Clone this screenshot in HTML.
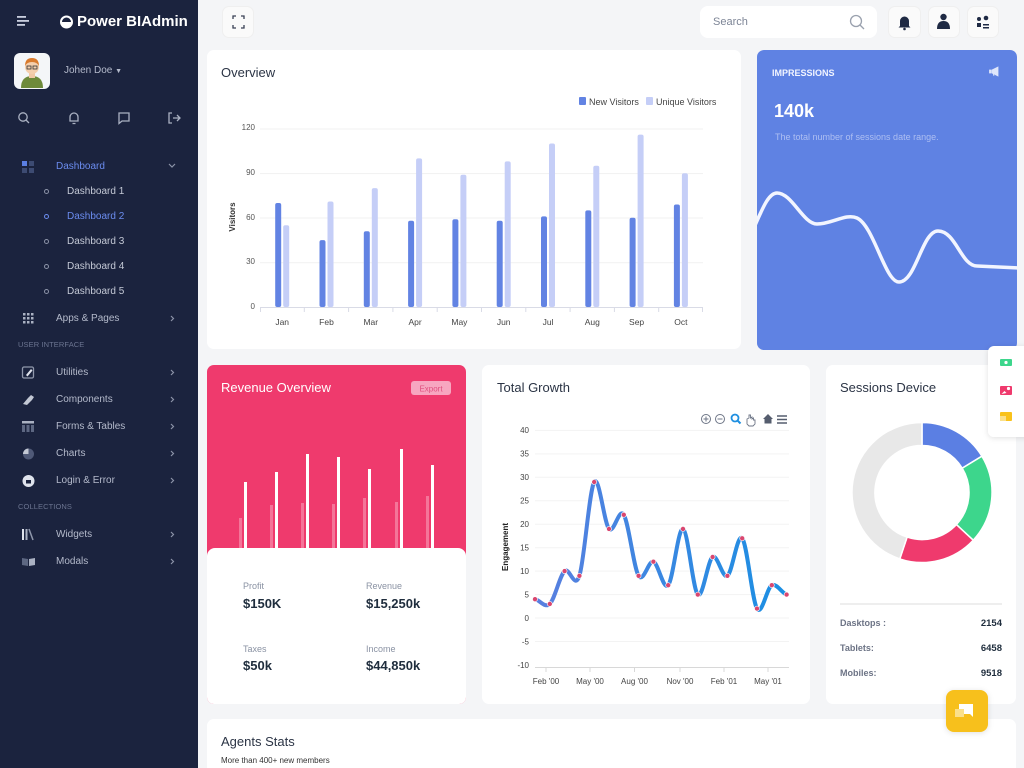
<!DOCTYPE html>
<html><head><meta charset="utf-8">
<style>
*{margin:0;padding:0;box-sizing:border-box}
html{width:1024px;height:768px;overflow:hidden}
body{width:1024px;height:768px;overflow:hidden;background:#f4f5f7;font-family:"Liberation Sans",sans-serif;position:relative}
.a{position:absolute;white-space:nowrap}
#side{position:absolute;left:0;top:0;width:198px;height:768px;background:#1b233e}
.card{position:absolute;background:#fff;border-radius:7px}
.mi{position:absolute;left:56px;font-size:10px;color:#b4bacb;line-height:12px}
.sub{position:absolute;left:67px;font-size:10px;color:#c4c9d6;line-height:12px}
.dot{position:absolute;left:44px;width:5px;height:5px;border:1px solid #8c93a8;border-radius:50%}
.sec{position:absolute;left:18px;font-size:7.5px;color:#6b7490;line-height:9px;letter-spacing:.1px}
.btn{position:absolute;background:#fafafa;border:1px solid #efefef;border-radius:7px}
</style></head><body>

<div id="side">
  <svg class="a" style="left:0;top:0" width="198" height="600">
    <rect x="17" y="16" width="9" height="1.8" fill="#c9cede"/>
    <rect x="17" y="20" width="12" height="1.8" fill="#c9cede"/>
    <rect x="17" y="24" width="8" height="1.8" fill="#c9cede"/>
    <circle cx="66.5" cy="22" r="6.5" fill="#fff"/>
    <path d="M62,22 a4.5,4.5 0 0 1 9,0 l-4.5,0 z" fill="#1b233e"/>
    <rect x="14" y="53" width="36" height="36" rx="6" fill="#f4f6f8"/>
    <path d="M21,88 q0,-12 11,-12 q11,0 11,12 z" fill="#6e8a3a"/>
    <rect x="29" y="73" width="6" height="5" fill="#f2c9a5"/>
    <circle cx="32" cy="67" r="7" fill="#f5cfad"/>
    <path d="M25,66 q0,-8 7,-8 q7,0 7,8 q-2,-4 -7,-4 q-5,0 -7,4z" fill="#d97b2e"/>
    <rect x="27" y="66" width="4" height="3" fill="none" stroke="#333" stroke-width=".8"/>
    <rect x="33" y="66" width="4" height="3" fill="none" stroke="#333" stroke-width=".8"/>
    <g stroke="#aab1c2" stroke-width="1.3" fill="none">
      <circle cx="23" cy="117" r="4.2"/><line x1="26" y1="120" x2="29" y2="123"/>
      <path d="M70,121 v-4 a4,4 0 0 1 8,0 v4 z M72.5,123.5 h3"/>
      <path d="M119,113 h10 v8 h-7 l-3,2.5 z"/>
      <path d="M172,113 h-3 v10 h3 M173,118 h7 M177,115 l3,3 l-3,3"/>
    </g>
    <rect x="22" y="161" width="5" height="5" fill="#5b7fe3"/>
    <rect x="29" y="161" width="5" height="5" fill="#3d4b72"/>
    <rect x="22" y="168" width="5" height="5" fill="#3d4b72"/>
    <rect x="29" y="168" width="5" height="5" fill="#3d4b72"/>
    <path d="M169,164 l3,3 l3,-3" stroke="#8c93a8" stroke-width="1.2" fill="none"/>
    <g fill="#aab1c2">
      <rect x="23" y="313" width="2.5" height="2.5"/><rect x="27" y="313" width="2.5" height="2.5"/><rect x="31" y="313" width="2.5" height="2.5"/>
      <rect x="23" y="317" width="2.5" height="2.5"/><rect x="27" y="317" width="2.5" height="2.5"/><rect x="31" y="317" width="2.5" height="2.5"/>
      <rect x="23" y="321" width="2.5" height="2.5"/><rect x="27" y="321" width="2.5" height="2.5"/><rect x="31" y="321" width="2.5" height="2.5"/>
    </g>
    <rect x="22.5" y="367" width="11" height="11" rx="1.5" fill="none" stroke="#8f97ab" stroke-width="1.3"/>
    <path d="M26,375 l5,-6 l1.5,1.5 l-5,6 z" fill="#dfe3ec"/>
    <path d="M23,404 l5,-6 l3,-3 l3,2 l-2,3 l-5,5 z" fill="#c3c8d4"/>
    <rect x="22" y="421" width="12" height="2.5" fill="#aab1c2"/>
    <rect x="22" y="425" width="3" height="7" fill="#5d6782"/><rect x="26.5" y="425" width="3" height="7" fill="#5d6782"/><rect x="31" y="425" width="3" height="7" fill="#5d6782"/>
    <circle cx="28.5" cy="454" r="5.5" fill="#4f5977"/>
    <path d="M28.5,454 v-5.5 a5.5,5.5 0 0 0 -5.5,5.5 z" fill="#c3c8d4"/>
    <circle cx="28.5" cy="481" r="6" fill="#dfe3ec"/>
    <rect x="26" y="480" width="5" height="3.5" fill="#1b233e"/>
    <rect x="22" y="529" width="2" height="11" fill="#dfe3ec"/><rect x="25.5" y="529" width="2" height="11" fill="#aab1c2"/>
    <path d="M29,529 l4,11" stroke="#8f97ab" stroke-width="1.5"/>
    <path d="M22,558 l6,1 v7 l-6,-1 z" fill="#5d6782"/><path d="M29,559 l6,-1 v7 l-6,1 z" fill="#aab1c2"/>
    <g stroke="#8c93a8" stroke-width="1.2" fill="none">
      <path d="M171,316 l2.5,2.5 l-2.5,2.5"/>
      <path d="M171,370 l2.5,2.5 l-2.5,2.5"/>
      <path d="M171,397 l2.5,2.5 l-2.5,2.5"/>
      <path d="M171,424 l2.5,2.5 l-2.5,2.5"/>
      <path d="M171,451 l2.5,2.5 l-2.5,2.5"/>
      <path d="M171,478 l2.5,2.5 l-2.5,2.5"/>
      <path d="M171,532 l2.5,2.5 l-2.5,2.5"/>
      <path d="M171,559 l2.5,2.5 l-2.5,2.5"/>
    </g>
  </svg>
  <div class="a" style="left:77px;top:13px;font-size:15px;font-weight:bold;color:#fff;line-height:18px">Power BIAdmin</div>
  <div class="a" style="left:64px;top:65px;font-size:10px;color:#b4bacb;line-height:12px">Johen Doe <span style="font-size:7px">▼</span></div>
  <div class="mi" style="top:161px;color:#6b8cef">Dashboard</div>
  <div class="dot" style="top:189px"></div><div class="sub" style="top:186px">Dashboard 1</div>
  <div class="dot" style="top:214px;border-color:#6b8cef"></div><div class="sub" style="top:211px;color:#6b8cef">Dashboard 2</div>
  <div class="dot" style="top:239px"></div><div class="sub" style="top:236px">Dashboard 3</div>
  <div class="dot" style="top:264px"></div><div class="sub" style="top:261px">Dashboard 4</div>
  <div class="dot" style="top:289px"></div><div class="sub" style="top:286px">Dashboard 5</div>
  <div class="mi" style="top:313px">Apps &amp; Pages</div>
  <div class="sec" style="top:340px">USER INTERFACE</div>
  <div class="mi" style="top:367px">Utilities</div>
  <div class="mi" style="top:394px">Components</div>
  <div class="mi" style="top:421px">Forms &amp; Tables</div>
  <div class="mi" style="top:448px">Charts</div>
  <div class="mi" style="top:475px">Login &amp; Error</div>
  <div class="sec" style="top:502px">COLLECTIONS</div>
  <div class="mi" style="top:529px">Widgets</div>
  <div class="mi" style="top:556px">Modals</div>
</div>

<div class="btn" style="left:222px;top:6px;width:32px;height:32px"></div>
<div class="a" style="left:700px;top:6px;width:177px;height:32px;background:#fff;border-radius:8px"></div>
<div class="a" style="left:713px;top:16px;font-size:11px;color:#7d8596;line-height:13px">Search</div>
<div class="btn" style="left:888px;top:6px;width:33px;height:32px"></div>
<div class="btn" style="left:928px;top:6px;width:32px;height:32px"></div>
<div class="btn" style="left:967px;top:6px;width:32px;height:32px"></div>

<div class="card" style="left:207px;top:50px;width:534px;height:299px"></div>
<div class="card" style="left:757px;top:50px;width:260px;height:300px;background:#5f82e3;overflow:hidden"></div>
<div class="card" style="left:207px;top:365px;width:259px;height:339px;background:#ef3a6d;overflow:hidden"></div>
<div class="card" style="left:482px;top:365px;width:328px;height:339px"></div>
<div class="card" style="left:826px;top:365px;width:190px;height:339px"></div>
<div class="card" style="left:207px;top:719px;width:809px;height:49px;border-radius:7px 7px 0 0"></div>

<svg class="a" style="left:0;top:0" width="1024" height="768">
  <g stroke="#3a4256" stroke-width="1.3" fill="none">
    <path d="M233,19 v-3 h3 M241,16 h3 v3 M244,25 v3 h-3 M236,28 h-3 v-3"/>
    <circle cx="856" cy="21" r="5.5" stroke="#9aa1ae"/><line x1="860" y1="25" x2="864" y2="29" stroke="#9aa1ae"/>
  </g>
  <path d="M900,26 v-5 a4.5,4.5 0 0 1 9,0 v5 l1.5,1.5 h-12 z" fill="#1f2a44"/><circle cx="904.5" cy="29" r="1.3" fill="#1f2a44"/>
  <circle cx="943.5" cy="17" r="3.2" fill="#1f2a44"/><path d="M937,29 q0,-8 6.5,-8 q6.5,0 6.5,8 z" fill="#1f2a44"/>
  <circle cx="979" cy="19" r="2" fill="#1f2a44"/><circle cx="986" cy="18" r="2.3" fill="#1f2a44"/>
  <rect x="977" y="23" width="4" height="4" fill="#1f2a44"/><rect x="983" y="24" width="6" height="1.5" fill="#1f2a44"/><rect x="983" y="27" width="6" height="1.5" fill="#1f2a44"/>

  <text x="221" y="77" font-size="13" fill="#2b3445">Overview</text>
  <rect x="579" y="97" width="7" height="8" rx="1" fill="#6283e3"/>
  <text x="589" y="105" font-size="9" fill="#444">New Visitors</text>
  <rect x="646" y="97" width="7" height="8" rx="1" fill="#c5cef7"/>
  <text x="656" y="105" font-size="9" fill="#444">Unique Visitors</text>
  <g stroke="#f1f1f1" stroke-width="1">
    <line x1="260" y1="129" x2="703" y2="129"/><line x1="260" y1="173.6" x2="703" y2="173.6"/>
    <line x1="260" y1="218" x2="703" y2="218"/><line x1="260" y1="262.7" x2="703" y2="262.7"/>
  </g>
  <g font-size="8" fill="#555" text-anchor="end">
    <text x="255" y="130">120</text><text x="255" y="175">90</text><text x="255" y="220">60</text><text x="255" y="264">30</text><text x="255" y="309">0</text>
  </g>
  <text transform="translate(235,217) rotate(-90)" font-size="8" font-weight="bold" fill="#333" text-anchor="middle">Visitors</text>
  <g fill="#6283e3">
    <rect x="275.2" y="203" width="6" height="104" rx="2"/>
    <rect x="319.5" y="240.1" width="6" height="66.9" rx="2"/>
    <rect x="363.8" y="231.2" width="6" height="75.8" rx="2"/>
    <rect x="408.1" y="220.8" width="6" height="86.2" rx="2"/>
    <rect x="452.4" y="219.3" width="6" height="87.7" rx="2"/>
    <rect x="496.7" y="220.8" width="6" height="86.2" rx="2"/>
    <rect x="541" y="216.4" width="6" height="90.6" rx="2"/>
    <rect x="585.3" y="210.4" width="6" height="96.6" rx="2"/>
    <rect x="629.6" y="217.8" width="6" height="89.2" rx="2"/>
    <rect x="673.9" y="204.5" width="6" height="102.5" rx="2"/>
  </g>
  <g fill="#c5cef7">
    <rect x="283.2" y="225.3" width="6" height="81.7" rx="2"/>
    <rect x="327.5" y="201.5" width="6" height="105.5" rx="2"/>
    <rect x="371.8" y="188.1" width="6" height="118.9" rx="2"/>
    <rect x="416.1" y="158.4" width="6" height="148.6" rx="2"/>
    <rect x="460.4" y="174.7" width="6" height="132.3" rx="2"/>
    <rect x="504.7" y="161.4" width="6" height="145.6" rx="2"/>
    <rect x="549" y="143.5" width="6" height="163.5" rx="2"/>
    <rect x="593.3" y="165.8" width="6" height="141.2" rx="2"/>
    <rect x="637.6" y="134.6" width="6" height="172.4" rx="2"/>
    <rect x="681.9" y="173.3" width="6" height="133.7" rx="2"/>
  </g>
  <line x1="260" y1="307.5" x2="703" y2="307.5" stroke="#d9dbe6"/>
  <g stroke="#d9dbe6">
    <line x1="260.5" y1="307" x2="260.5" y2="312"/><line x1="304.3" y1="307" x2="304.3" y2="312"/><line x1="348.6" y1="307" x2="348.6" y2="312"/>
    <line x1="392.9" y1="307" x2="392.9" y2="312"/><line x1="437.2" y1="307" x2="437.2" y2="312"/><line x1="481.5" y1="307" x2="481.5" y2="312"/>
    <line x1="525.8" y1="307" x2="525.8" y2="312"/><line x1="570.1" y1="307" x2="570.1" y2="312"/><line x1="614.4" y1="307" x2="614.4" y2="312"/>
    <line x1="658.7" y1="307" x2="658.7" y2="312"/><line x1="702.5" y1="307" x2="702.5" y2="312"/>
  </g>
  <g font-size="8.5" fill="#444" text-anchor="middle">
    <text x="282.2" y="325">Jan</text><text x="326.5" y="325">Feb</text><text x="370.8" y="325">Mar</text><text x="415.1" y="325">Apr</text>
    <text x="459.4" y="325">May</text><text x="503.7" y="325">Jun</text><text x="548" y="325">Jul</text><text x="592.3" y="325">Aug</text>
    <text x="636.6" y="325">Sep</text><text x="680.9" y="325">Oct</text>
  </g>

  <text x="772" y="76" font-size="9" fill="#f2f5ff" style="font-weight:600">IMPRESSIONS</text>
  <path d="M992,70 l6,-3 v9 l-6,-3 z M991,70 h-1.5 v3 h1.5 z M993,73 l1,3" fill="#dfe6fb" stroke="#dfe6fb" stroke-width=".8"/>
  <text x="774" y="117" font-size="18" style="font-weight:bold" fill="#fff">140k</text>
  <text x="775" y="140" font-size="9" fill="#aebff2">The total number of sessions date range.</text>
  <clipPath id="ic"><rect x="757" y="50" width="260" height="300" rx="7"/></clipPath>
  <path clip-path="url(#ic)" d="M752,232 C762,210 768,193 777,193 C792,193 803,224 817,224 C832,224 846,213 857,218 C874,226 885,282 899,282 C916,282 922,231 938,231 C956,231 961,266 977,266 L1020,268" stroke="#f2f5ff" stroke-width="3.5" fill="none"/>

  <text x="221" y="392" font-size="13" fill="#fff">Revenue Overview</text>
  <rect x="411" y="381" width="40" height="14" rx="3" fill="#f7a6c0"/>
  <text x="431" y="391.5" font-size="8" fill="#e0507f" text-anchor="middle">Export</text>
  <g fill="#fff" fill-opacity=".3">
    <rect x="239" y="518" width="3" height="34"/><rect x="270" y="505" width="3" height="47"/><rect x="301" y="503" width="3" height="49"/>
    <rect x="332" y="504" width="3" height="48"/><rect x="363" y="498" width="3" height="54"/><rect x="395" y="502" width="3" height="50"/><rect x="426" y="496" width="3" height="56"/>
  </g>
  <g fill="#fff">
    <rect x="244" y="482" width="3" height="70"/><rect x="275" y="472" width="3" height="80"/><rect x="306" y="454" width="3" height="98"/>
    <rect x="337" y="457" width="3" height="95"/><rect x="368" y="469" width="3" height="83"/><rect x="400" y="449" width="3" height="103"/><rect x="431" y="465" width="3" height="87"/>
  </g>
  <path d="M207,556 a8,8 0 0 1 8,-8 h243 a8,8 0 0 1 8,8 v141 a7,7 0 0 1 -7,7 h-245 a7,7 0 0 1 -7,-7 z" fill="#fff"/>
  <g font-size="9" fill="#8a92a3">
    <text x="243" y="589">Profit</text><text x="366" y="589">Revenue</text>
    <text x="243" y="652">Taxes</text><text x="366" y="652">Income</text>
  </g>
  <g font-size="13" style="font-weight:bold" fill="#1f2d3d">
    <text x="243" y="608">$150K</text><text x="366" y="608">$15,250k</text>
    <text x="243" y="670">$50k</text><text x="366" y="670">$44,850k</text>
  </g>

  <text x="497" y="392" font-size="13" fill="#2b3445">Total Growth</text>
  <g stroke="#6e7687" stroke-width="1" fill="none">
    <circle cx="706" cy="419" r="4.5"/><path d="M703.5,419 h5 M706,416.5 v5"/>
    <circle cx="720" cy="419" r="4.5"/><path d="M717.5,419 h5"/>
    <path d="M777,416 h10 M777,419.5 h10 M777,423 h10" stroke="#555d6e" stroke-width="1.4"/>
  </g>
  <circle cx="735" cy="418" r="3.5" stroke="#1f8fe0" stroke-width="1.8" fill="none"/><line x1="737.5" y1="420.5" x2="740.5" y2="423.5" stroke="#1f8fe0" stroke-width="2"/>
  <path d="M747,424 v-5 l2,-1 v-3 l1.5,0 v3 l1.5,-1 v2 l1.5,-1 v2 l1.5,0 v4 l-2,2 h-4 z" fill="none" stroke="#6e7687" stroke-width=".9"/>
  <path d="M763,419 l5,-5 l5,5 h-1.5 v4.5 h-7 v-4.5 z" fill="#555d6e"/>
  <g stroke="#f3f3f3">
    <line x1="535" y1="430.4" x2="789" y2="430.4"/><line x1="535" y1="453.9" x2="789" y2="453.9"/><line x1="535" y1="477.3" x2="789" y2="477.3"/>
    <line x1="535" y1="500.8" x2="789" y2="500.8"/><line x1="535" y1="524.2" x2="789" y2="524.2"/><line x1="535" y1="547.7" x2="789" y2="547.7"/>
    <line x1="535" y1="571.1" x2="789" y2="571.1"/><line x1="535" y1="594.6" x2="789" y2="594.6"/><line x1="535" y1="618" x2="789" y2="618"/>
    <line x1="535" y1="641.5" x2="789" y2="641.5"/>
  </g>
  <g font-size="8" fill="#444" text-anchor="end">
    <text x="529" y="433">40</text><text x="529" y="456.5">35</text><text x="529" y="480">30</text><text x="529" y="503.5">25</text>
    <text x="529" y="527">20</text><text x="529" y="550.5">15</text><text x="529" y="574">10</text><text x="529" y="597.5">5</text>
    <text x="529" y="621">0</text><text x="529" y="644.5">-5</text><text x="529" y="668">-10</text>
  </g>
  <text transform="translate(508,547) rotate(-90)" font-size="8" font-weight="bold" fill="#222" text-anchor="middle">Engagement</text>
  <line x1="535" y1="667.5" x2="789" y2="667.5" stroke="#d8d8d8"/>
  <g stroke="#d8d8d8">
    <line x1="546" y1="667" x2="546" y2="672"/><line x1="590" y1="667" x2="590" y2="672"/><line x1="634.5" y1="667" x2="634.5" y2="672"/>
    <line x1="680" y1="667" x2="680" y2="672"/><line x1="724" y1="667" x2="724" y2="672"/><line x1="768" y1="667" x2="768" y2="672"/>
  </g>
  <g font-size="8" fill="#444" text-anchor="middle">
    <text x="546" y="684">Feb '00</text><text x="590" y="684">May '00</text><text x="634.5" y="684">Aug '00</text>
    <text x="680" y="684">Nov '00</text><text x="724" y="684">Feb '01</text><text x="768" y="684">May '01</text>
  </g>
  <linearGradient id="lg" x1="0" x2="1" y1="0" y2="0"><stop offset="0" stop-color="#5a7fdf"/><stop offset="1" stop-color="#1a8fe3"/></linearGradient>
  <path d="M535,599.2 C539.9,600.0 544.9,608.6 549.8,603.9 C554.7,599.2 559.7,575.8 564.6,571.1 C569.5,566.4 574.5,590.7 579.4,575.8 C584.3,561.0 589.3,489.8 594.2,482.0 C599.1,474.2 604.1,523.4 609,528.9 C613.9,534.4 618.9,507.0 623.8,514.8 C628.7,522.6 633.7,568.0 638.6,575.8 C643.5,583.6 648.5,560.1 653.4,561.7 C658.3,563.3 663.3,590.7 668.2,585.2 C673.1,579.7 678.1,527.3 683,528.9 C687.9,530.5 692.9,589.9 697.8,594.6 C702.7,599.3 707.7,560.1 712.6,557.0 C717.5,553.9 722.5,578.9 727.4,575.8 C732.3,572.7 737.3,532.8 742.2,538.3 C747.1,543.8 752.1,600.8 757,608.6 C761.9,616.4 766.9,587.5 771.8,585.2 C776.7,582.9 781.7,593.0 786.6,594.6" stroke="url(#lg)" stroke-width="4" fill="none" stroke-linecap="round"/>
  <g fill="#d9466f" stroke="#fff" stroke-width=".6">
    <circle cx="535" cy="599.2" r="2.5"/><circle cx="549.8" cy="603.9" r="2.5"/><circle cx="564.6" cy="571.1" r="2.5"/><circle cx="579.4" cy="575.8" r="2.5"/>
    <circle cx="594.2" cy="482" r="2.5"/><circle cx="609" cy="528.9" r="2.5"/><circle cx="623.8" cy="514.8" r="2.5"/><circle cx="638.6" cy="575.8" r="2.5"/>
    <circle cx="653.4" cy="561.7" r="2.5"/><circle cx="668.2" cy="585.2" r="2.5"/><circle cx="683" cy="528.9" r="2.5"/><circle cx="697.8" cy="594.6" r="2.5"/>
    <circle cx="712.6" cy="557" r="2.5"/><circle cx="727.4" cy="575.8" r="2.5"/><circle cx="742.2" cy="538.3" r="2.5"/><circle cx="757" cy="608.6" r="2.5"/>
    <circle cx="771.8" cy="585.2" r="2.5"/><circle cx="786.6" cy="594.6" r="2.5"/>
  </g>

  <text x="840" y="392" font-size="13" fill="#2b3445">Sessions Device</text>
  <g stroke="#fff" stroke-width="1.5">
    <path d="M922,422.5 A70,70 0 0 1 981.9,456.2 L962.2,468.2 A47,47 0 0 0 922,445.5 Z" fill="#5b7fe3"/>
    <path d="M981.9,456.2 A70,70 0 0 1 973.2,540.2 L956.4,524.6 A47,47 0 0 0 962.2,468.2 Z" fill="#3dd68c"/>
    <path d="M973.2,540.2 A70,70 0 0 1 899.8,558.9 L907.1,537.1 A47,47 0 0 0 956.4,524.6 Z" fill="#ef3a6d"/>
    <path d="M899.8,558.9 A70,70 0 0 1 922,422.5 L922,445.5 A47,47 0 0 0 907.1,537.1 Z" fill="#e8e8e8"/>
  </g>
  <line x1="840" y1="604" x2="1002" y2="604" stroke="#dcdcdc"/>
  <g font-size="9" style="font-weight:bold" fill="#6c7385">
    <text x="840" y="626">Dasktops :</text><text x="840" y="651">Tablets:</text><text x="840" y="676">Mobiles:</text>
  </g>
  <g font-size="9.5" style="font-weight:bold" fill="#1f2d3d" text-anchor="end">
    <text x="1002" y="626">2154</text><text x="1002" y="651">6458</text><text x="1002" y="676">9518</text>
  </g>

  <text x="221" y="746" font-size="13" fill="#2b3445">Agents Stats</text>
  <text x="221" y="763" font-size="8" fill="#333">More than 400+ new members</text>

  <defs><filter id="sh" x="-50%" y="-50%" width="200%" height="200%"><feDropShadow dx="0" dy="1" stdDeviation="3" flood-color="#000" flood-opacity=".12"/></filter></defs>
  <rect x="988" y="346" width="45" height="91" rx="6" fill="#fff" filter="url(#sh)"/>
  <rect x="1000" y="359" width="12" height="7" rx="1" fill="#3dd68c"/><circle cx="1006" cy="362.5" r="1.6" fill="#fff"/>
  <rect x="1000" y="386" width="12" height="9" rx="1" fill="#ef3a6d"/><circle cx="1008.5" cy="388.5" r="1.6" fill="#fff"/><path d="M1001.5,394 l3,-3 l2,2 z" fill="#fff"/>
  <rect x="1000" y="412" width="12" height="9" rx="1" fill="#f9c21b"/><rect x="1000" y="416" width="6" height="5" fill="#fbe08a"/>

  <rect x="946" y="690" width="42" height="42" rx="8" fill="#f7c01b" filter="url(#sh)"/>
  <path d="M959,704 h14 v13 l-3,-3 h-11 z" fill="#fff"/>
  <rect x="955" y="709" width="9" height="8" fill="#fbe08a"/>
</svg>
</body></html>
